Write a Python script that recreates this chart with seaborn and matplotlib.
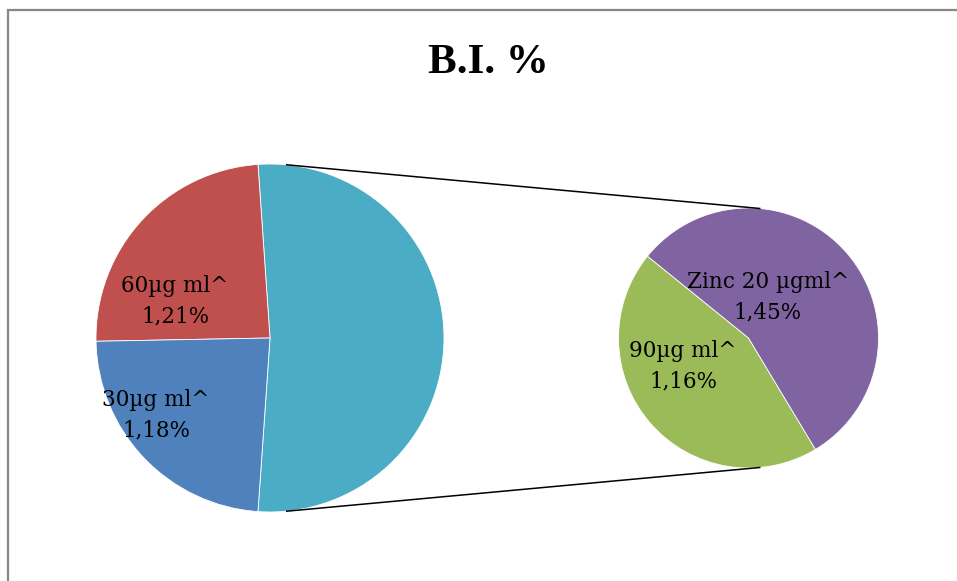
import matplotlib
matplotlib.use("Agg")
import matplotlib.pyplot as plt
from matplotlib.patches import Rectangle
import seaborn as sns
import numpy as np

# Pie-of-pie data: primary slices plus the two doses split out into the secondary pie
primary_labels = ["60µg ml^", "30µg ml^"]
primary_values = [1.21, 1.18]
secondary_labels = ["90µg ml^", "Zinc 20 µgml^"]
secondary_values = [1.16, 1.45]

primary_colors = ["#C0504D", "#4F81BD"]
other_color = "#4BACC6"
secondary_colors = ["#9BBB59", "#8064A2"]

sns.set_theme(style="white")
plt.rcParams["font.family"] = ["DejaVu Serif", "DejaVu Sans"]

W, H = 957, 581
fig = plt.figure(figsize=(W / 100, H / 100), dpi=100)
ax = fig.add_axes([0, 0, 1, 1])

def py(y):
    """Convert a top-down pixel row into the axes' upward y coordinate."""
    return H - y

# geometry of the two pies
c1, r1 = (270, py(338)), 174
c2, r2 = (748.5, py(338)), 130

other_value = sum(secondary_values)
total = other_value + sum(primary_values)
other_deg = other_value / total * 360

wedge_kw = dict(edgecolor="white", linewidth=0.6)

# main pie: the combined "other" slice faces the secondary pie
ax.pie([other_value] + primary_values,
       colors=[other_color] + primary_colors,
       startangle=-other_deg / 2, counterclock=True,
       center=c1, radius=r1, wedgeprops=wedge_kw, frame=False)

# secondary pie
ax.pie(secondary_values, colors=secondary_colors,
       startangle=141, counterclock=True,
       center=c2, radius=r2, wedgeprops=wedge_kw, frame=False)

ax.set_xlim(0, W)
ax.set_ylim(0, H)
ax.set_aspect("equal")
ax.axis("off")

# external tangent lines joining the two pies
d = c2[0] - c1[0]
nx = (r1 - r2) / d
ny = np.sqrt(1 - nx ** 2)
for s in (1, -1):
    ax.plot([c1[0] + r1 * nx, c2[0] + r2 * nx],
            [c1[1] + s * r1 * ny, c2[1] + s * r2 * ny],
            color="black", linewidth=1.1, solid_capstyle="butt")

def fmt(v):
    return f"{v:.2f}%".replace(".", ",")

label_pos = {
    "60µg ml^": (175, 301),
    "30µg ml^": (156, 415),
    "90µg ml^": (683, 366),
    "Zinc 20 µgml^": (768, 297),
}
for name, v in zip(primary_labels + secondary_labels,
                   primary_values + secondary_values):
    x, y = label_pos[name]
    ax.text(x, py(y), f"{name}\n{fmt(v)}", ha="center", va="center",
            fontsize=15.5, color="black", linespacing=1.5,
            family=["DejaVu Serif", "DejaVu Sans"])

# title
ax.text(488, py(63), "B.I. %", ha="center", va="center",
        fontsize=31, fontweight="bold", color="black",
        family=["Liberation Serif", "DejaVu Serif"])

# chart area border (runs off the right and bottom edges)
fig.patches.append(Rectangle((8 / W, -0.1), 1.2, (H - 10) / H + 0.1,
                             transform=fig.transFigure, fill=False,
                             edgecolor="#878787", linewidth=1.6))

fig.savefig("out.png", dpi=100)
